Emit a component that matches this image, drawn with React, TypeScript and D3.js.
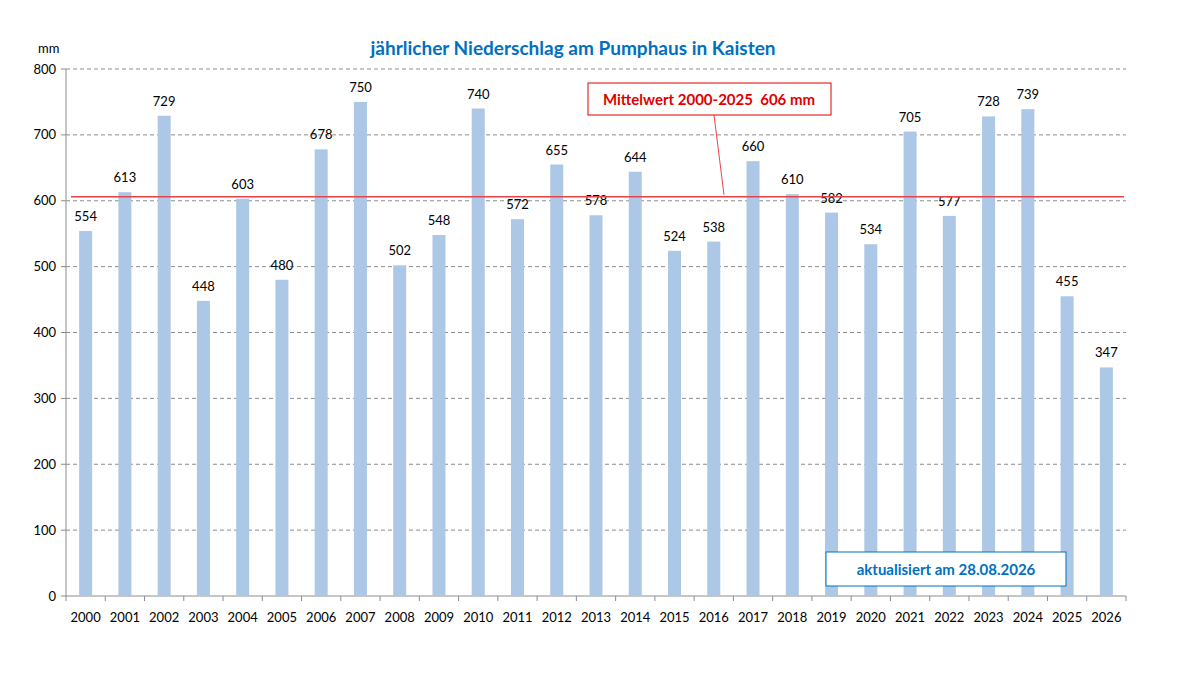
import * as React from 'react';
import * as d3 from 'd3';

const years = ['2000','2001','2002','2003','2004','2005','2006','2007','2008','2009','2010','2011','2012','2013','2014','2015','2016','2017','2018','2019','2020','2021','2022','2023','2024','2025','2026'];
const rain = [554,613,729,448,603,480,678,750,502,548,740,572,655,578,644,524,538,660,610,582,534,705,577,728,739,455,347];
const yTicks = [0,100,200,300,400,500,600,700,800];
const mean = 606;

const App: React.FC = () => {
  const ref = React.useRef<SVGSVGElement>(null);

  React.useEffect(() => {
    const svg = d3.select(ref.current);
    svg.selectAll('*').remove();
    const font = 'Lato, "Liberation Sans", sans-serif';
    const left = 66, right = 1126, top = 69, bottom = 596;

    const x = d3.scaleBand().domain(years).range([left, right]);
    const y = d3.scaleLinear().domain([0, 800]).range([bottom, top]);

    // grid
    svg.selectAll('line.grid').data(yTicks.filter(d => d > 0)).enter().append('line')
      .attr('x1', left).attr('x2', right)
      .attr('y1', d => y(d)).attr('y2', d => y(d))
      .attr('stroke', '#8c8c8c').attr('stroke-dasharray', '4,3');

    // axes
    svg.append('line').attr('x1', left).attr('x2', left).attr('y1', top).attr('y2', bottom).attr('stroke', '#8c8c8c');
    svg.append('line').attr('x1', left).attr('x2', right).attr('y1', bottom).attr('y2', bottom).attr('stroke', '#8c8c8c');
    svg.selectAll('line.tx').data(yTicks).enter().append('line')
      .attr('x1', left - 5).attr('x2', left).attr('y1', d => y(d)).attr('y2', d => y(d)).attr('stroke', '#8c8c8c');
    svg.selectAll('line.bx').data(years.concat(['end'])).enter().append('line')
      .attr('x1', (d, i) => left + i * x.step()).attr('x2', (d, i) => left + i * x.step())
      .attr('y1', bottom).attr('y2', bottom + 5).attr('stroke', '#8c8c8c');

    svg.selectAll('text.yt').data(yTicks).enter().append('text')
      .attr('x', left - 10).attr('y', d => y(d) + 4.5).attr('text-anchor', 'end')
      .attr('font-family', font).attr('font-size', 13).attr('fill', '#000').text(d => d);
    svg.selectAll('text.xt').data(years).enter().append('text')
      .attr('x', d => x(d)! + x.bandwidth() / 2).attr('y', bottom + 26).attr('text-anchor', 'middle')
      .attr('font-family', font).attr('font-size', 13).attr('fill', '#000').text(d => d);

    // bars
    const bw = 13;
    svg.selectAll('rect.bar').data(rain).enter().append('rect')
      .attr('x', (d, i) => x(years[i])! + x.bandwidth() / 2 - bw / 2)
      .attr('width', bw)
      .attr('y', d => y(d)).attr('height', d => bottom - y(d))
      .attr('fill', '#adc7e7');
    svg.selectAll('text.val').data(rain).enter().append('text')
      .attr('x', (d, i) => x(years[i])! + x.bandwidth() / 2)
      .attr('y', d => y(d) - 10).attr('text-anchor', 'middle')
      .attr('font-family', font).attr('font-size', 13).attr('fill', '#000').text(d => d);

    // mean line
    svg.append('line').attr('x1', left + 5).attr('x2', right - 2).attr('y1', y(mean)).attr('y2', y(mean))
      .attr('stroke', '#e8434b').attr('stroke-width', 1.5);
    svg.append('line').attr('x1', 714).attr('x2', 724).attr('y1', 115).attr('y2', y(mean) - 2)
      .attr('stroke', '#e8434b').attr('stroke-width', 1);
    svg.append('rect').attr('x', 588).attr('y', 83).attr('width', 243).attr('height', 32)
      .attr('fill', '#fff').attr('stroke', '#e00000');
    svg.append('text').attr('x', 709).attr('y', 104.5).attr('text-anchor', 'middle')
      .attr('font-family', font).attr('font-size', 15).attr('font-weight', 'bold').attr('fill', '#e00000')
      .attr('xml:space', 'preserve').text(`Mittelwert 2000-2025  ${mean} mm`);

    // update box
    svg.append('rect').attr('x', 826).attr('y', 552).attr('width', 240).attr('height', 34)
      .attr('fill', '#fff').attr('stroke', '#0070c0');
    svg.append('text').attr('x', 946).attr('y', 574.5).attr('text-anchor', 'middle')
      .attr('font-family', font).attr('font-size', 15).attr('font-weight', 'bold').attr('fill', '#0070c0')
      .text('aktualisiert am 28.08.2026');

    // title
    svg.append('text').attr('x', 573).attr('y', 55).attr('text-anchor', 'middle')
      .attr('font-family', font).attr('font-size', 19).attr('font-weight', 'bold').attr('fill', '#0070c0')
      .text('jährlicher Niederschlag am Pumphaus in Kaisten');
    svg.append('text').attr('x', 38).attr('y', 53)
      .attr('font-family', font).attr('font-size', 13).attr('fill', '#000').text('mm');
  }, []);

  return (
    <svg ref={ref} width={1184} height={686}
      style={{ position: 'absolute', left: 0, top: 0, background: '#fff' }} />
  );
};

export default App;
